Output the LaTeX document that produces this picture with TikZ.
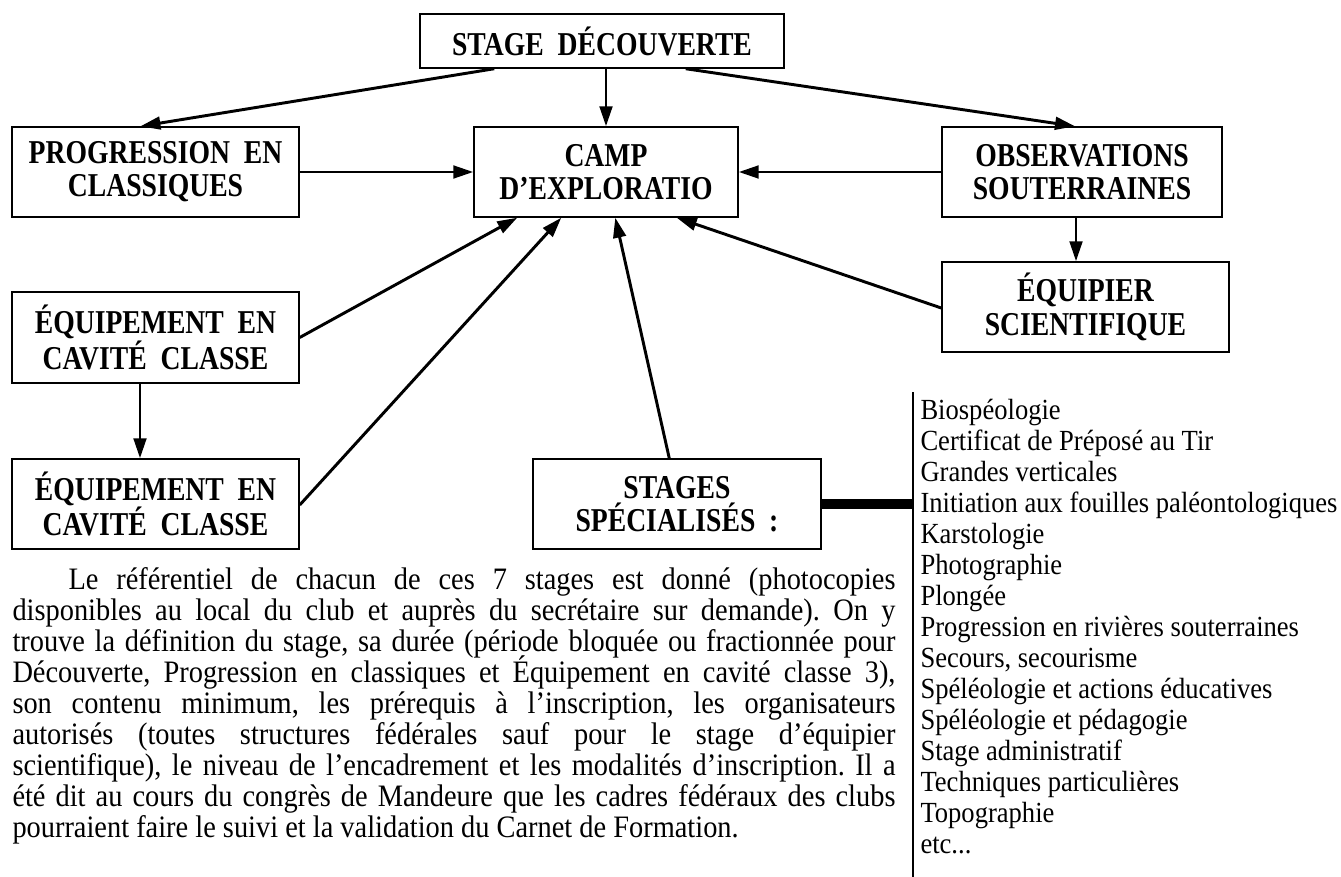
\documentclass[tikz,border=0pt]{standalone}
\usepackage{fontspec}
\setmainfont{Liberation Serif}
\newfontfamily\boxfont[FakeStretch=0.83]{Liberation Serif}
\newfontfamily\tallfont[FakeStretch=0.91]{Liberation Serif}
\usetikzlibrary{arrows.meta,calc}
\frenchspacing

\tikzset{every picture/.style={line width=0.75pt}}
\tikzset{
	stagebox/.style={draw, line width=1.1pt, inner sep=0pt, align=center,
		font=\boxfont\fontsize{25}{25}\selectfont\bfseries},
	flow/.style={line width=2.2pt, -{Triangle[length=15pt,width=9.5pt]}},
	listtext/.style={anchor=base west, inner sep=0pt, font=\tallfont\fontsize{21.9}{23}\selectfont},
	paratext/.style={anchor=base west, inner sep=0pt, font=\tallfont\fontsize{23.4}{23}\selectfont}}

\begin{document}
\begin{tikzpicture}[x=0.75pt,y=0.75pt,yscale=-1,xscale=1]
	\useasboundingbox (0,0) rectangle (1341,877);

	%Boxes
	\node [stagebox, minimum width=273pt, minimum height=40.5pt] (dec) at (602,41) {STAGE\ \ DÉCOUVERTE};
	\node [stagebox, minimum width=215.25pt, minimum height=67.5pt] (prog) at (155.5,172) {PROGRESSION\ \ EN\\CLASSIQUES};
	\node [stagebox, minimum width=198pt, minimum height=67.5pt] (camp) at (606,172) {CAMP\\D’EXPLORATIO};
	\node [stagebox, minimum width=210pt, minimum height=67.5pt] (obs) at (1082,172) {OBSERVATIONS\\SOUTERRAINES};
	\node [stagebox, minimum width=215.25pt, minimum height=67.5pt] (equi) at (1085.5,307) {ÉQUIPIER\\SCIENTIFIQUE};
	\node [stagebox, minimum width=215.25pt, minimum height=68.25pt] (eqa) at (155.5,337.5) {ÉQUIPEMENT\ \ EN\\CAVITÉ\ \ CLASSE};
	\node [stagebox, minimum width=215.25pt, minimum height=67.5pt] (eqb) at (155.5,504) {ÉQUIPEMENT\ \ EN\\CAVITÉ\ \ CLASSE};
	\node [stagebox, minimum width=216pt, minimum height=67.5pt] (spec) at (677,504) {STAGES\\SPÉCIALISÉS\ \ :};

	%Arrows from the discovery course
	\draw [flow] ($(dec.south west)+(75,0)$) -- ($(prog.north)+(-15,0)$);
	\draw [flow] (dec.south -| camp.north) -- (camp.north);
	\draw [flow] ($(dec.south east)+(-99,0)$) -- ($(obs.north)+(-7,0)$);
	%Arrows towards the camp
	\draw [flow] (prog.east) -- (camp.west);
	\draw [flow] (obs.west) -- (camp.east);
	\draw [flow] (obs.south -| 1076,0) -- (equi.north -| 1076,0);
	\draw [flow] ($(equi.west)+(0,1)$) -- ($(camp.south east)+(-62,0)$);
	\draw [flow] ($(eqa.east)+(0,0)$) -- ($(camp.south west)+(44,0)$);
	\draw [flow] (eqa.south -| 140,0) -- (eqb.north -| 140,0);
	\draw [flow] ($(eqb.east)+(0,1)$) -- ($(camp.south west)+(88,0)$);
	\draw [flow] ($(spec.north west)+(137,0)$) -- ($(camp.south west)+(142,0)$);

	%List of specialised courses
	\coordinate (bar) at (913,504);
	\coordinate (top) at (913,392);
	\coordinate (bottom) at (913,877);
	\draw [line width=7pt] (spec.east) -- (bar);
	\draw [line width=1pt] (top) -- (bottom);

	% Text Node
	\node [listtext] (l1) at (920,419) {Biospéologie};
	\node [listtext] (l2) at (920,450) {Certificat de Préposé au Tir};
	\node [listtext] (l3) at (920,481) {Grandes verticales};
	\node [listtext] (l4) at (920,512) {Initiation aux fouilles paléontologiques};
	\node [listtext] (l5) at (920,543) {Karstologie};
	\node [listtext] (l6) at (920,574) {Photographie};
	\node [listtext] (l7) at (920,605) {Plongée};
	\node [listtext] (l8) at (920,636) {Progression en rivières souterraines};
	\node [listtext] (l9) at (920,667) {Secours, secourisme};
	\node [listtext] (l10) at (920,698) {Spéléologie et actions éducatives};
	\node [listtext] (l11) at (920,729) {Spéléologie et pédagogie};
	\node [listtext] (l12) at (920,760) {Stage administratif};
	\node [listtext] (l13) at (920,791) {Techniques particulières};
	\node [listtext] (l14) at (920,822) {Topographie};
	\node [listtext] (l15) at (920,853) {etc...};

	% Text Node
	\node [paratext] (p1) at (68,589) {\makebox[620.25pt][s]{Le référentiel de chacun de ces 7 stages est donné (photocopies}};
	\node [paratext] (p2) at (12,620) {\makebox[662.25pt][s]{disponibles au local du club et auprès du secrétaire sur demande). On y}};
	\node [paratext] (p3) at (12,651) {\makebox[662.25pt][s]{trouve la définition du stage, sa durée (période bloquée ou fractionnée pour}};
	\node [paratext] (p4) at (12,682) {\makebox[662.25pt][s]{Découverte, Progression en classiques et Équipement en cavité classe 3),}};
	\node [paratext] (p5) at (12,713) {\makebox[662.25pt][s]{son contenu minimum, les prérequis à l’inscription, les organisateurs}};
	\node [paratext] (p6) at (12,744) {\makebox[662.25pt][s]{autorisés (toutes structures fédérales sauf pour le stage d’équipier}};
	\node [paratext] (p7) at (12,775) {\makebox[662.25pt][s]{scientifique), le niveau de l’encadrement et les modalités d’inscription. Il a}};
	\node [paratext] (p8) at (12,806) {\makebox[662.25pt][s]{été dit au cours du congrès de Mandeure que les cadres fédéraux des clubs}};
	\node [paratext] (p9) at (12,837) {pourraient faire le suivi et la validation du Carnet de Formation.};

\end{tikzpicture}
\end{document}
